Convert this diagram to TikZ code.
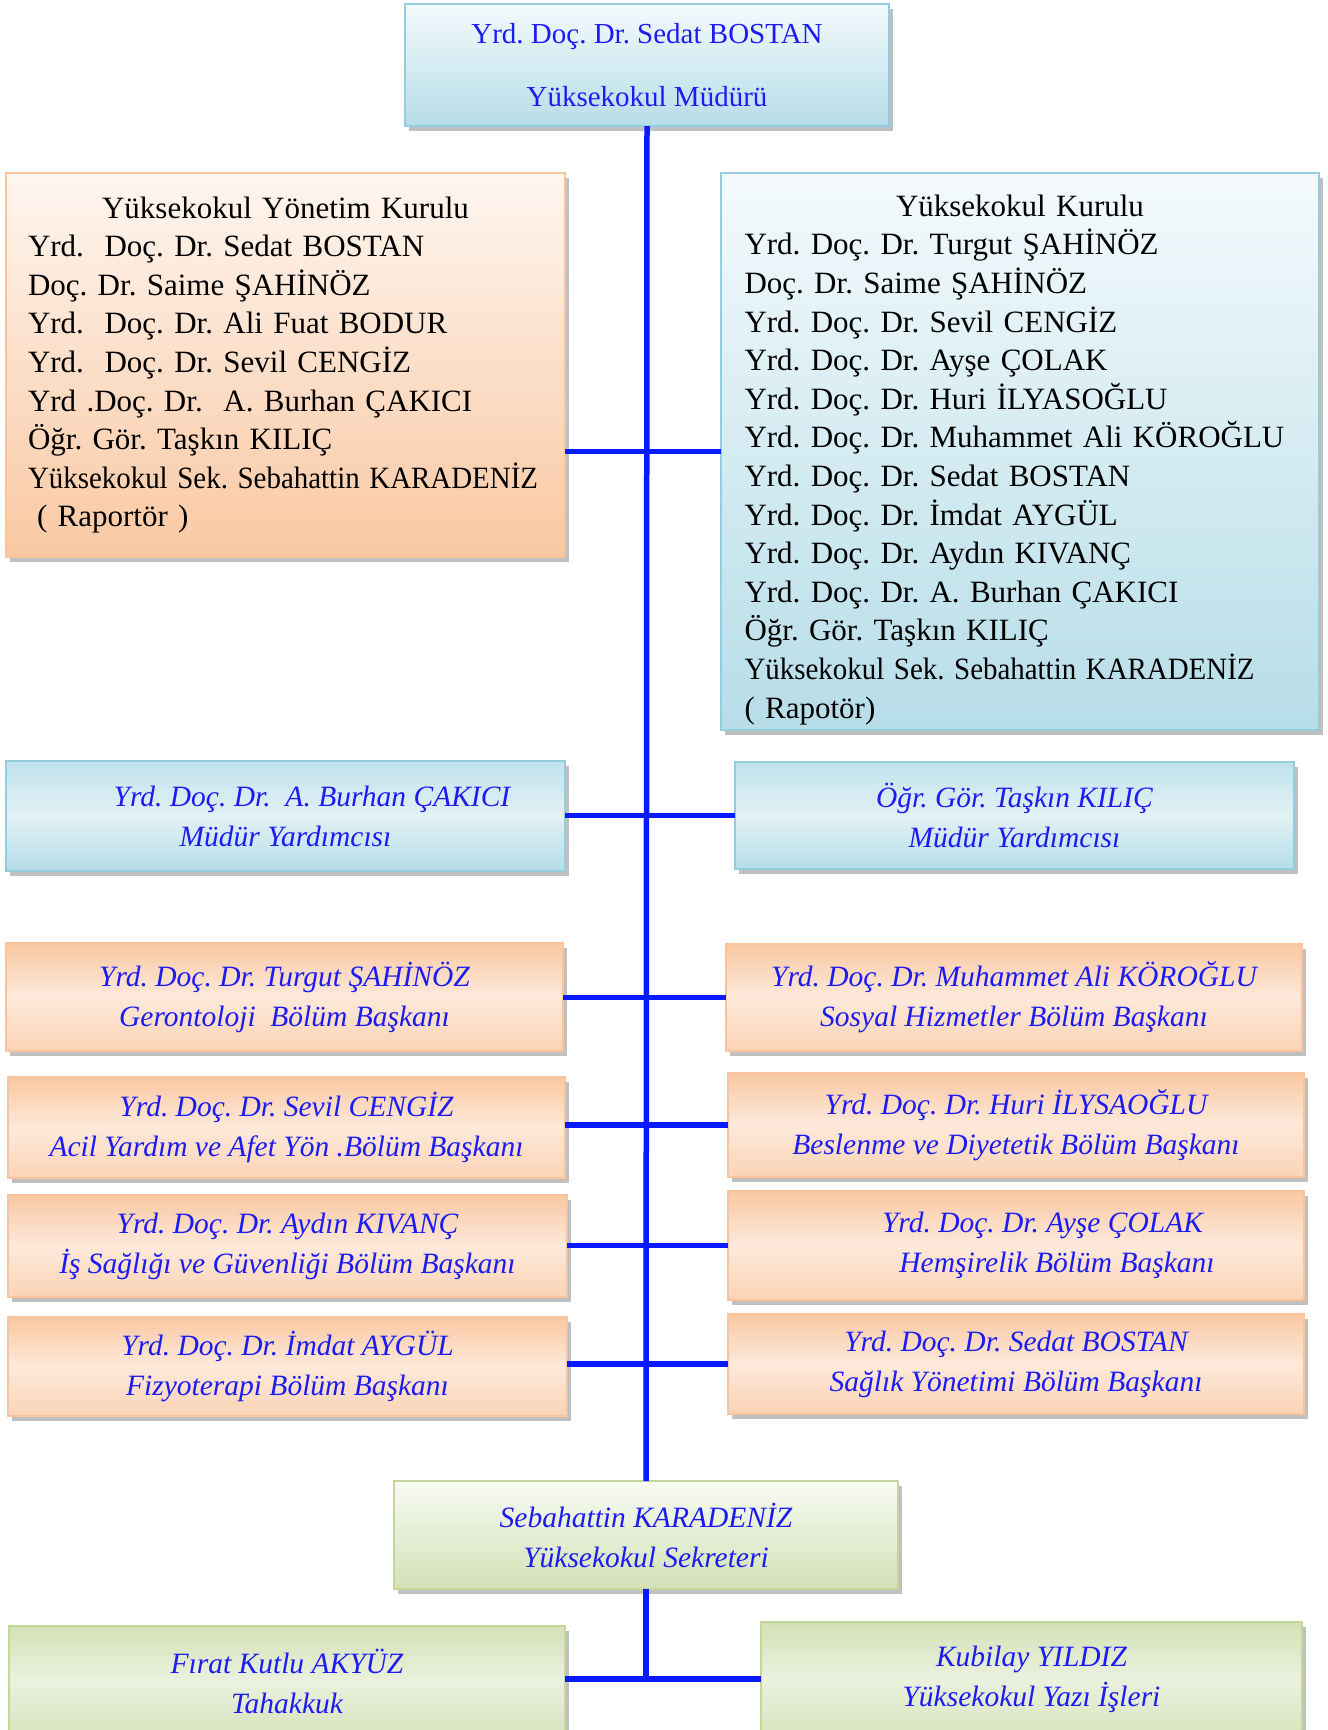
\documentclass[tikz,border=0pt]{standalone}
\usepackage{fontspec}
\setmainfont{Liberation Serif}
\frenchspacing
\usetikzlibrary{positioning,shadows}

\definecolor{hatmavi}{HTML}{0A1AFF}
\definecolor{yazimavi}{HTML}{1C1CF2}
\definecolor{mavicizgi}{HTML}{94CDDE}
\definecolor{mavi0}{HTML}{F4FAFC}
\definecolor{mavi1}{HTML}{B6DDE8}
\definecolor{mavi2}{HTML}{E2F1F5}
\definecolor{turcizgi}{HTML}{F9C39B}
\definecolor{tur0}{HTML}{FEF6F0}
\definecolor{tur1}{HTML}{F9C8A2}
\definecolor{tur2}{HTML}{FDE9DA}
\definecolor{yescizgi}{HTML}{C3D69B}
\definecolor{yes0}{HTML}{F8FBF3}
\definecolor{yes1}{HTML}{D3E1B6}
\definecolor{yes2}{HTML}{EBF1DE}

\newcommand\listefont{\fontsize{31}{38.6}\selectfont}
\newcommand\egikfont{\fontsize{29.5}{40}\selectfont\itshape}
\newcommand\dar[1]{\scalebox{0.933}[1]{#1}}

\tikzset{
  kutu/.style={rectangle, line width=2.5pt, outer sep=0pt, inner sep=0pt,
    drop shadow={shadow xshift=4pt, shadow yshift=-5pt, fill=black!55, opacity=.45}},
  mavikutu/.style={kutu, draw=mavicizgi, top color=mavi0, bottom color=mavi1},
  mavigecis/.style={kutu, draw=mavicizgi, top color=mavi1!85, bottom color=mavi1, middle color=mavi2},
  turkutu/.style={kutu, draw=turcizgi, top color=tur0, bottom color=tur1},
  turgecis/.style={kutu, draw=turcizgi, top color=tur1, bottom color=tur1!80, middle color=tur2},
  yeskutu/.style={kutu, draw=yescizgi, top color=yes0, bottom color=yes1},
  yesgecis/.style={kutu, draw=yescizgi, top color=yes1, bottom color=yes1!90, middle color=yes2},
  liste/.style={align=left, font=\listefont, text=black},
  unvan/.style={align=center, font=\egikfont, text=yazimavi},
  hat/.style={draw=hatmavi, line width=5.5pt}
}

\begin{document}
\begin{tikzpicture}[x=1pt,y=-1pt]
\clip (0,0) rectangle (1328,1730);

% mudur
\node[mavikutu, minimum width=484pt, minimum height=122pt, align=center,
  font={\fontsize{29}{63}\selectfont}, text=yazimavi] (mudur) at (647,65)
  {Yrd. Doç. Dr. Sedat BOSTAN\\Yüksekokul Müdürü};

% kurullar
\node[turkutu, liste, minimum width=559pt, minimum height=384pt,
  text width=515pt] (yonkurul) at (285.5,365)
  {\makebox[\hsize][c]{Yüksekokul Yönetim Kurulu}\\
   Yrd.~~Doç. Dr. Sedat BOSTAN\\
   Doç. Dr. Saime ŞAHİNÖZ\\
   Yrd.~~Doç. Dr. Ali Fuat BODUR\\
   Yrd.~~Doç. Dr. Sevil CENGİZ\\
   Yrd .Doç. Dr.~~A. Burhan ÇAKICI\\
   Öğr. Gör. Taşkın KILIÇ\\
   \dar{Yüksekokul Sek. Sebahattin KARADENİZ}\\
   \hspace*{9pt}( Raportör )};
\node[mavikutu, liste, minimum width=598pt, minimum height=557pt,
  text width=551pt] (kurul) at (1020,451.5)
  {\rule{0pt}{38pt}\makebox[\hsize][c]{Yüksekokul Kurulu}\\
   Yrd. Doç. Dr. Turgut ŞAHİNÖZ\\
   Doç. Dr. Saime ŞAHİNÖZ\\
   Yrd. Doç. Dr. Sevil CENGİZ\\
   Yrd. Doç. Dr. Ayşe ÇOLAK\\
   Yrd. Doç. Dr. Huri İLYASOĞLU\\
   \mbox{Yrd. Doç. Dr. Muhammet Ali KÖROĞLU}\\
   Yrd. Doç. Dr. Sedat BOSTAN\\
   Yrd. Doç. Dr. İmdat AYGÜL\\
   Yrd. Doç. Dr. Aydın KIVANÇ\\
   Yrd. Doç. Dr. A. Burhan ÇAKICI\\
   Öğr. Gör. Taşkın KILIÇ\\
   \dar{Yüksekokul Sek. Sebahattin KARADENİZ}\\
   ( Rapotör)};

% mudur yardimcilari
\node[mavigecis, unvan, minimum width=559pt, minimum height=110pt] (myrd1) at (285.5,816)
  {\hspace*{53pt}Yrd. Doç. Dr.~~A. Burhan ÇAKICI\\Müdür Yardımcısı};
\node[mavigecis, unvan, minimum width=559pt, minimum height=107pt] (myrd2) at (1014.5,815.5)
  {Öğr. Gör. Taşkın KILIÇ\\Müdür Yardımcısı};

% bolum baskanlari
\node[turgecis, unvan, minimum width=557pt, minimum height=108pt] (ger) at (284.5,997)
  {Yrd. Doç. Dr. Turgut ŞAHİNÖZ\\Gerontoloji~~Bölüm Başkanı};
\node[turgecis, unvan, minimum width=576pt, minimum height=107pt] (sos) at (1014,997.5)
  {Yrd. Doç. Dr. Muhammet Ali KÖROĞLU\\Sosyal Hizmetler Bölüm Başkanı};
\node[turgecis, unvan, minimum width=557pt, minimum height=101pt] (acil) at (286.5,1127.5)
  {Yrd. Doç. Dr. Sevil CENGİZ\\Acil Yardım ve Afet Yön .Bölüm Başkanı};
\node[turgecis, unvan, minimum width=576pt, minimum height=104pt] (bes) at (1016,1125)
  {Yrd. Doç. Dr. Huri İLYSAOĞLU\\Beslenme ve Diyetetik Bölüm Başkanı};
\node[turgecis, unvan, minimum width=559pt, minimum height=102pt] (isg) at (287.5,1246)
  {Yrd. Doç. Dr. Aydın KIVANÇ\\İş Sağlığı ve Güvenliği Bölüm Başkanı};
\node[turgecis, unvan, minimum width=576pt, minimum height=109pt] (hem) at (1016,1245.5)
  {\hspace*{53pt}Yrd. Doç. Dr. Ayşe ÇOLAK\\\hspace*{82pt}Hemşirelik Bölüm Başkanı};
\node[turgecis, unvan, minimum width=559pt, minimum height=99pt] (fiz) at (287.5,1366.5)
  {Yrd. Doç. Dr. İmdat AYGÜL\\Fizyoterapi Bölüm Başkanı};
\node[turgecis, unvan, minimum width=576pt, minimum height=100pt] (sy) at (1016,1364)
  {Yrd. Doç. Dr. Sedat BOSTAN\\Sağlık Yönetimi Bölüm Başkanı};

% sekreterlik
\node[yeskutu, unvan, minimum width=504pt, minimum height=108pt] (sek) at (646,1535)
  {Sebahattin KARADENİZ\\Yüksekokul Sekreteri};
\node[yesgecis, unvan, minimum width=556pt, minimum height=110pt] (tah) at (287,1681)
  {Fırat Kutlu AKYÜZ\\Tahakkuk};
\node[yesgecis, unvan, minimum width=541pt, minimum height=114pt] (yazi) at (1031.5,1679)
  {Kubilay YILDIZ\\Yüksekokul Yazı İşleri};

% baglantilar
\draw[hat] (mudur.south) -- (sek.north);
\draw[hat] (yonkurul.east |- kurul.west) -- (kurul.west);
\draw[hat] (myrd1.east |- myrd2.west) -- (myrd2.west);
\draw[hat] (ger.east |- sos.west) -- (sos.west);
\draw[hat] (acil.east |- bes.west) -- (bes.west);
\draw[hat] (isg.east |- hem.west) -- (hem.west);
\draw[hat] (fiz.east |- sy.west) -- (sy.west);
\draw[hat] (sek.south) -- (sek.south |- yazi.west);
\draw[hat] (tah.east |- yazi.west) -- (yazi.west);
\end{tikzpicture}
\end{document}
